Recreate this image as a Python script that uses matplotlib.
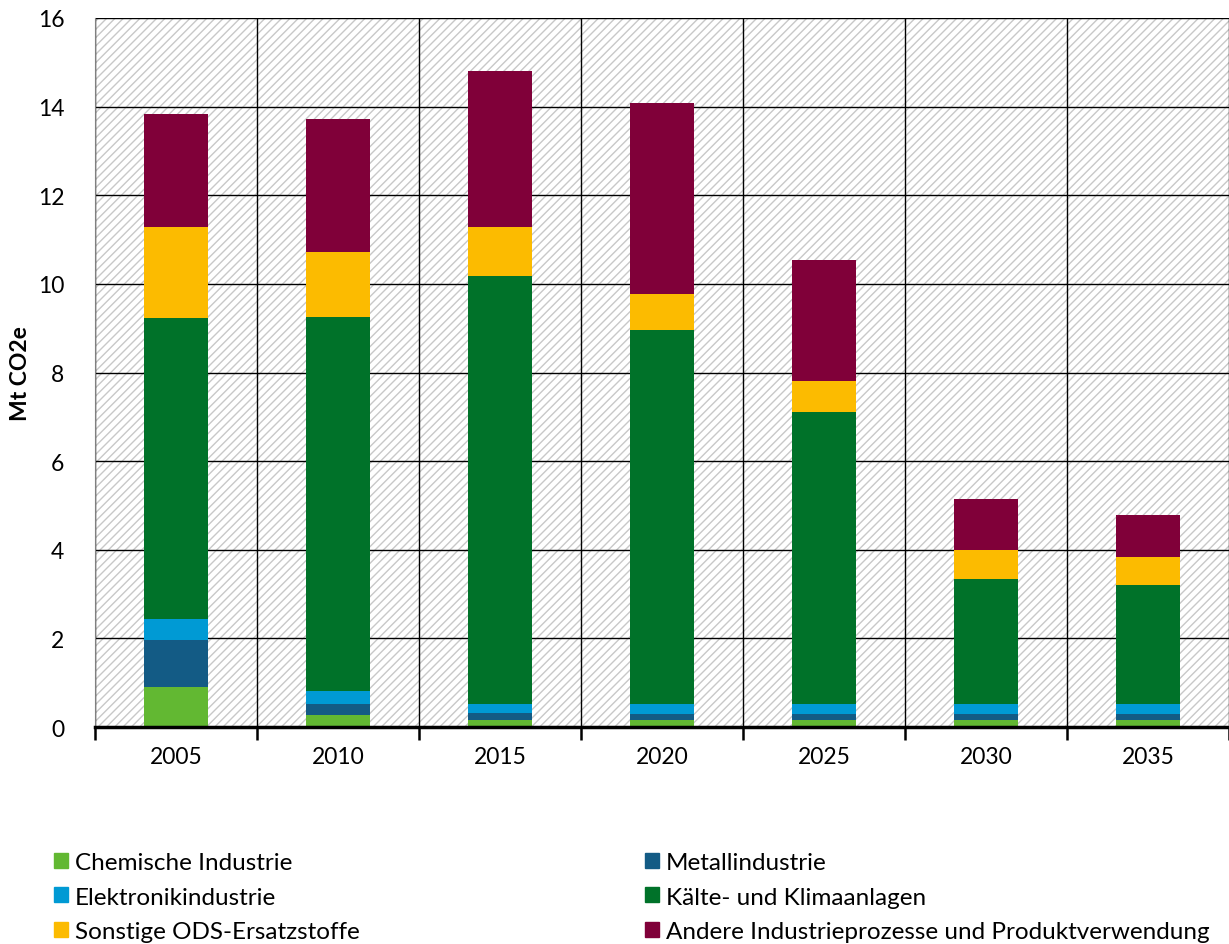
import numpy as np
import matplotlib.pyplot as plt
from matplotlib.patches import Rectangle, Patch

plt.rcParams['font.family'] = ['Lato', 'DejaVu Sans']
plt.rcParams['hatch.color'] = '#c8c8c8'
plt.rcParams['hatch.linewidth'] = 1.0

# ── data ─────────────────────────────────────────────────────────────────────
years = ["2005", "2010", "2015", "2020", "2025", "2030", "2035"]
chemie = [0.90, 0.27, 0.15, 0.15, 0.15, 0.15, 0.15]
metall = [1.06, 0.26, 0.17, 0.14, 0.14, 0.14, 0.14]
elektronik = [0.48, 0.29, 0.21, 0.24, 0.24, 0.24, 0.24]
kaelte = [6.79, 8.44, 9.65, 8.43, 6.58, 2.81, 2.68]
sonstige = [2.06, 1.46, 1.11, 0.81, 0.70, 0.65, 0.63]
andere = [2.55, 3.00, 3.52, 4.32, 2.73, 1.15, 0.95]

series = [
    ("Chemische Industrie", chemie, "#62b832"),
    ("Metallindustrie", metall, "#135b85"),
    ("Elektronikindustrie", elektronik, "#009ad4"),
    ("Kälte- und Klimaanlagen", kaelte, "#007229"),
    ("Sonstige ODS-Ersatzstoffe", sonstige, "#fcbb00"),
    ("Andere Industrieprozesse und Produktverwendung", andere, "#800039"),
]

fig = plt.figure(figsize=(12.29, 9.45), dpi=100)
ax = fig.add_axes([0.0773, 0.2296, 0.9227, 0.7503])

# hatched background
ax.add_patch(Rectangle((0, 0), 1, 1, transform=ax.transAxes, facecolor="white",
                       hatch="////", edgecolor="#c8c8c8", linewidth=0, zorder=0))

x = np.arange(len(years))
bottom = np.zeros(len(years))
for name, vals, col in series:
    ax.bar(x, vals, width=0.4, bottom=bottom, color=col, label=name, zorder=3)
    bottom += np.array(vals)

ax.set_xlim(-0.5, len(years) - 0.5)
ax.set_ylim(0, 16)
ax.set_yticks(np.arange(0, 17, 2))
ax.set_xticks(np.arange(-0.5, len(years)), labels=[])
ax.set_xticks(x, labels=years, minor=True)
ax.tick_params(axis="x", which="major", length=9, width=1.8, direction="out")
ax.tick_params(axis="x", which="minor", length=0, pad=14, labelsize=16.5)
ax.tick_params(axis="y", length=0, pad=22, labelsize=16.5)
ax.grid(True, which="major", color="black", linewidth=1.0, zorder=1)
ax.set_axisbelow(True)

for s in ["top", "right"]:
    ax.spines[s].set_visible(False)
ax.spines["left"].set_color("#808080")
ax.spines["bottom"].set_linewidth(2.5)
ax.spines["bottom"].set_zorder(4)

ax.set_ylabel("Mt CO2e", fontsize=16.5, fontweight="bold", labelpad=5)

# legend in row order: left column then right column
handles = [Patch(color=c) for _, _, c in series]
labels = [n for n, _, _ in series]
order = [0, 2, 4, 1, 3, 5]
fig.legend([handles[i] for i in order], [labels[i] for i in order],
           ncol=2, loc="upper left", bbox_to_anchor=(0.036, 0.108),
           frameon=False, fontsize=17.5, handlelength=0.58, handleheight=0.58,
           handletextpad=0.28, columnspacing=11.75, labelspacing=0.57,
           borderaxespad=0)

fig.savefig("out.png", dpi=100)
